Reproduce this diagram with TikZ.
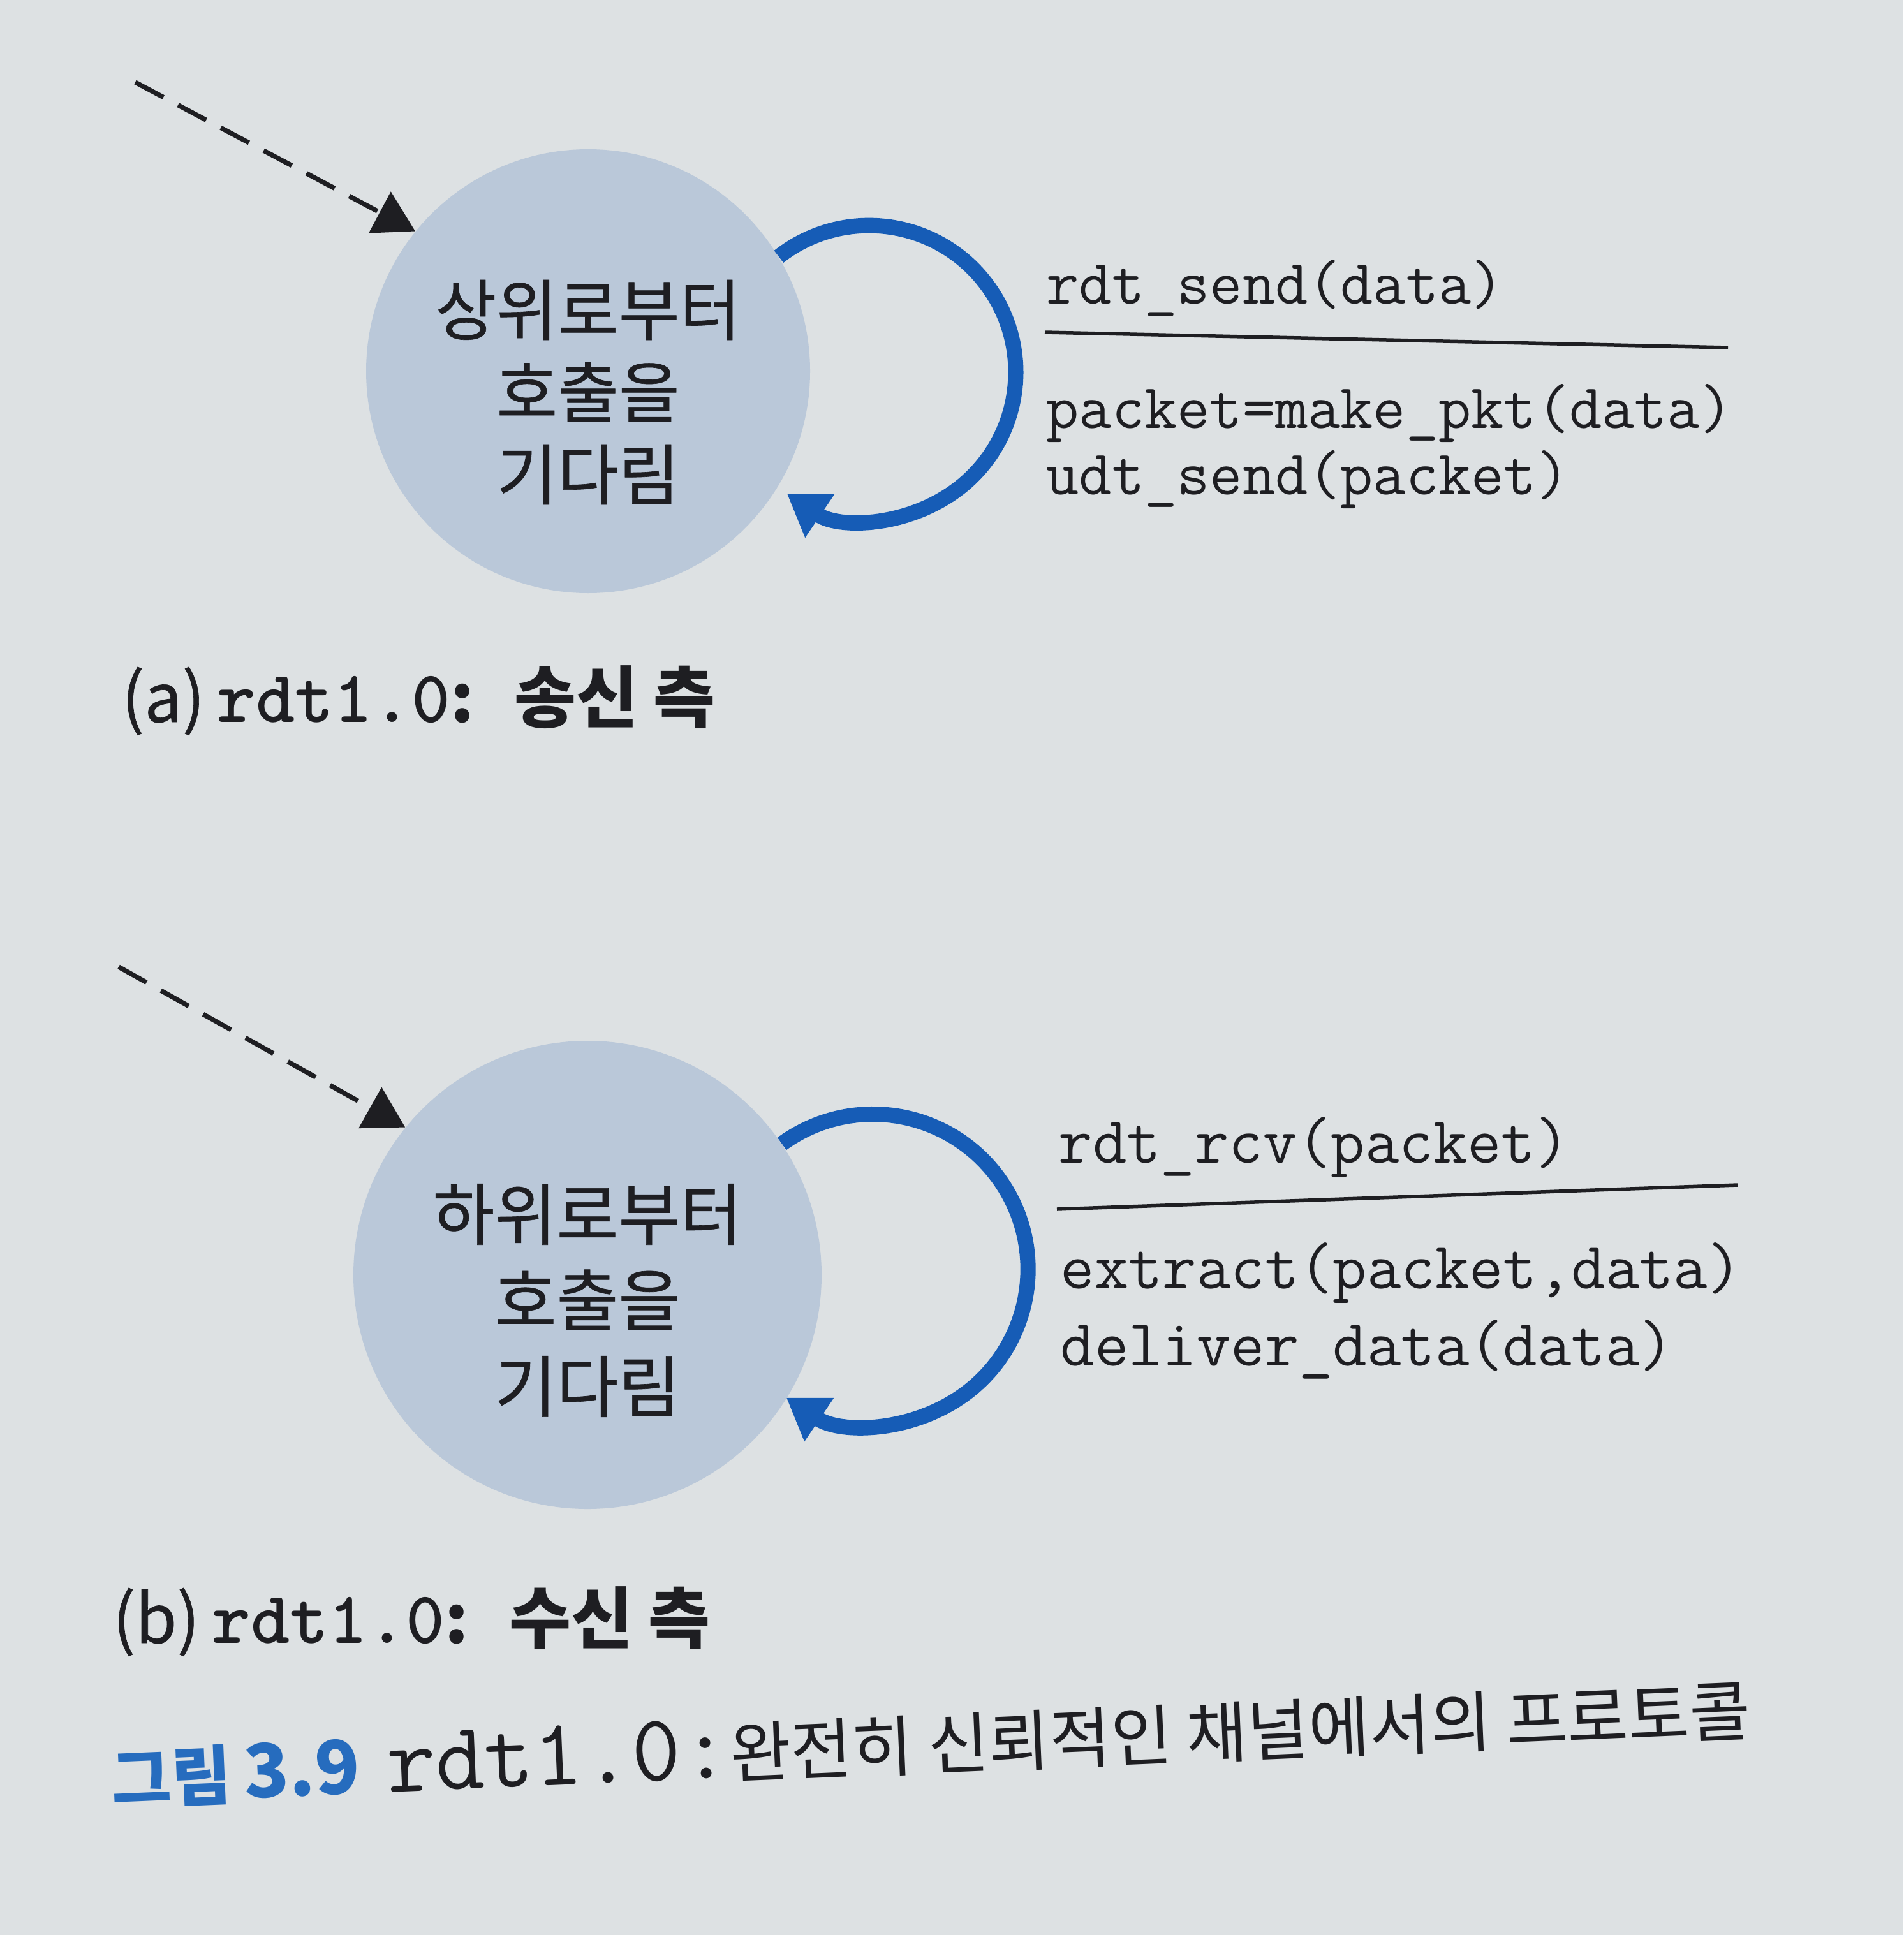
\documentclass[tikz,border=0pt]{standalone}
\usepackage{fontspec}
\newfontfamily\kor{Noto Sans CJK KR}
\newfontfamily\korm{Noto Sans CJK KR}[FakeBold=0.6]
\newfontfamily\codebold{lmmonolt10-bold.otf}
\usetikzlibrary{arrows.meta}
\definecolor{paper}{RGB}{221,225,227}
\definecolor{statefill}{RGB}{186,200,217}
\definecolor{loopblue}{RGB}{22,92,182}
\definecolor{capblue}{RGB}{38,108,190}
\definecolor{ink}{RGB}{30,30,34}

\begin{document}
\begin{tikzpicture}

        % Styles
        \tikzstyle{state}=[circle,fill=statefill,inner sep=0pt]
        \tikzstyle{state text}=[align=center,text=ink,inner sep=0pt,font=\korm\fontsize{29.6}{36.7}\selectfont]
        \tikzstyle{code}=[anchor=west,inner sep=0pt,align=left,text=ink]
        \tikzstyle{entry}=[draw=ink,line width=2.1pt,dash pattern=on 0.5cm off 0.26cm,-{Triangle[length=0.63cm,width=0.72cm]}]
        \tikzstyle{self loop}=[draw=loopblue,line width=0.24cm,-{Triangle[length=0.62cm,width=0.78cm]}]
        \tikzstyle{guard}=[draw=ink,line width=0.055cm]
        \tikzstyle{sub caption}=[anchor=west,inner sep=0pt,text=ink]
        %The graphic
        %paper
        \useasboundingbox (0,0) rectangle (29.84,-30.34);
        \fill[paper] (0,0) rectangle (29.84,-30.34);

        %(a) sender side
        \node[state,minimum size=6.96cm] (sw) at (9.22,-5.82) {};
        \node[state text] (swtext) at ([yshift=-0.33cm]sw.center) {상위로부터\\호출을\\기다림};
        \coordinate (swin) at (2.12,-1.29);
        \draw[entry] (swin) -- (sw.141);
        \draw[self loop] (sw.31) arc[start angle=128,end angle=-124,radius=2.3cm];
        \node[code,font=\ttfamily\fontsize{28.3}{29.5}\selectfont] (sevent) at (16.40,-4.52) {rdt\_send(data)};
        \coordinate (sruleL) at (16.38,-5.21);
        \coordinate (sruleR) at (27.09,-5.45);
        \draw[guard] (sruleL) -- (sruleR);
        \node[code,font=\ttfamily\fontsize{28.3}{29.5}\selectfont] (saction) at (16.40,-7.00) {packet=make\_pkt(data)\\udt\_send(packet)};
        \node[sub caption] (scap) at (1.90,-10.98) {{\korm\fontsize{30}{30}\selectfont (a)}\hspace{0.55em}{\codebold\fontsize{33}{33}\selectfont rdt1.0}{\kor\bfseries\fontsize{30}{30}\selectfont :\hspace{0.6em}송신 측}};

        %(b) receiver side
        \node[state,minimum size=7.34cm] (rw) at (9.21,-19.99) {};
        \node[state text,font=\korm\fontsize{30}{38.4}\selectfont] (rwtext) at ([yshift=-0.40cm]rw.center) {하위로부터\\호출을\\기다림};
        \coordinate (rwin) at (1.86,-15.16);
        \draw[entry] (rwin) -- (rw.141);
        \draw[self loop] (rw.34) arc[start angle=126,end angle=-124,radius=2.43cm];
        \node[code,font=\ttfamily\fontsize{29.5}{34.5}\selectfont] (revent) at (16.59,-17.99) {rdt\_rcv(packet)};
        \coordinate (rruleL) at (16.57,-18.96);
        \coordinate (rruleR) at (27.24,-18.58);
        \draw[guard] (rruleL) -- (rruleR);
        \node[code,font=\ttfamily\fontsize{29.5}{34.5}\selectfont] (raction) at (16.62,-20.55) {extract(packet,data)\\deliver\_data(data)};
        \node[sub caption] (rcap) at (1.76,-25.42) {{\korm\fontsize{30}{30}\selectfont (b)}\hspace{0.55em}{\codebold\fontsize{33}{33}\selectfont rdt1.0}{\kor\bfseries\fontsize{30}{30}\selectfont :\hspace{0.6em}수신 측}};

        %figure caption
        \node[sub caption,rotate=2.4] (figcap) at (1.74,-27.86) {{\kor\bfseries\color{capblue}\fontsize{29}{29}\selectfont 그림\hspace{0.2em}{\fontsize{33}{33}\selectfont 3.9}}\hspace{1.2em}{\ttfamily\fontsize{42.5}{42.5}\selectfont rdt1.0:}{\kor\fontsize{29.6}{29.6}\selectfont 완전히 신뢰적인 채널에서의 프로토콜}};
\end{tikzpicture}
\end{document}
